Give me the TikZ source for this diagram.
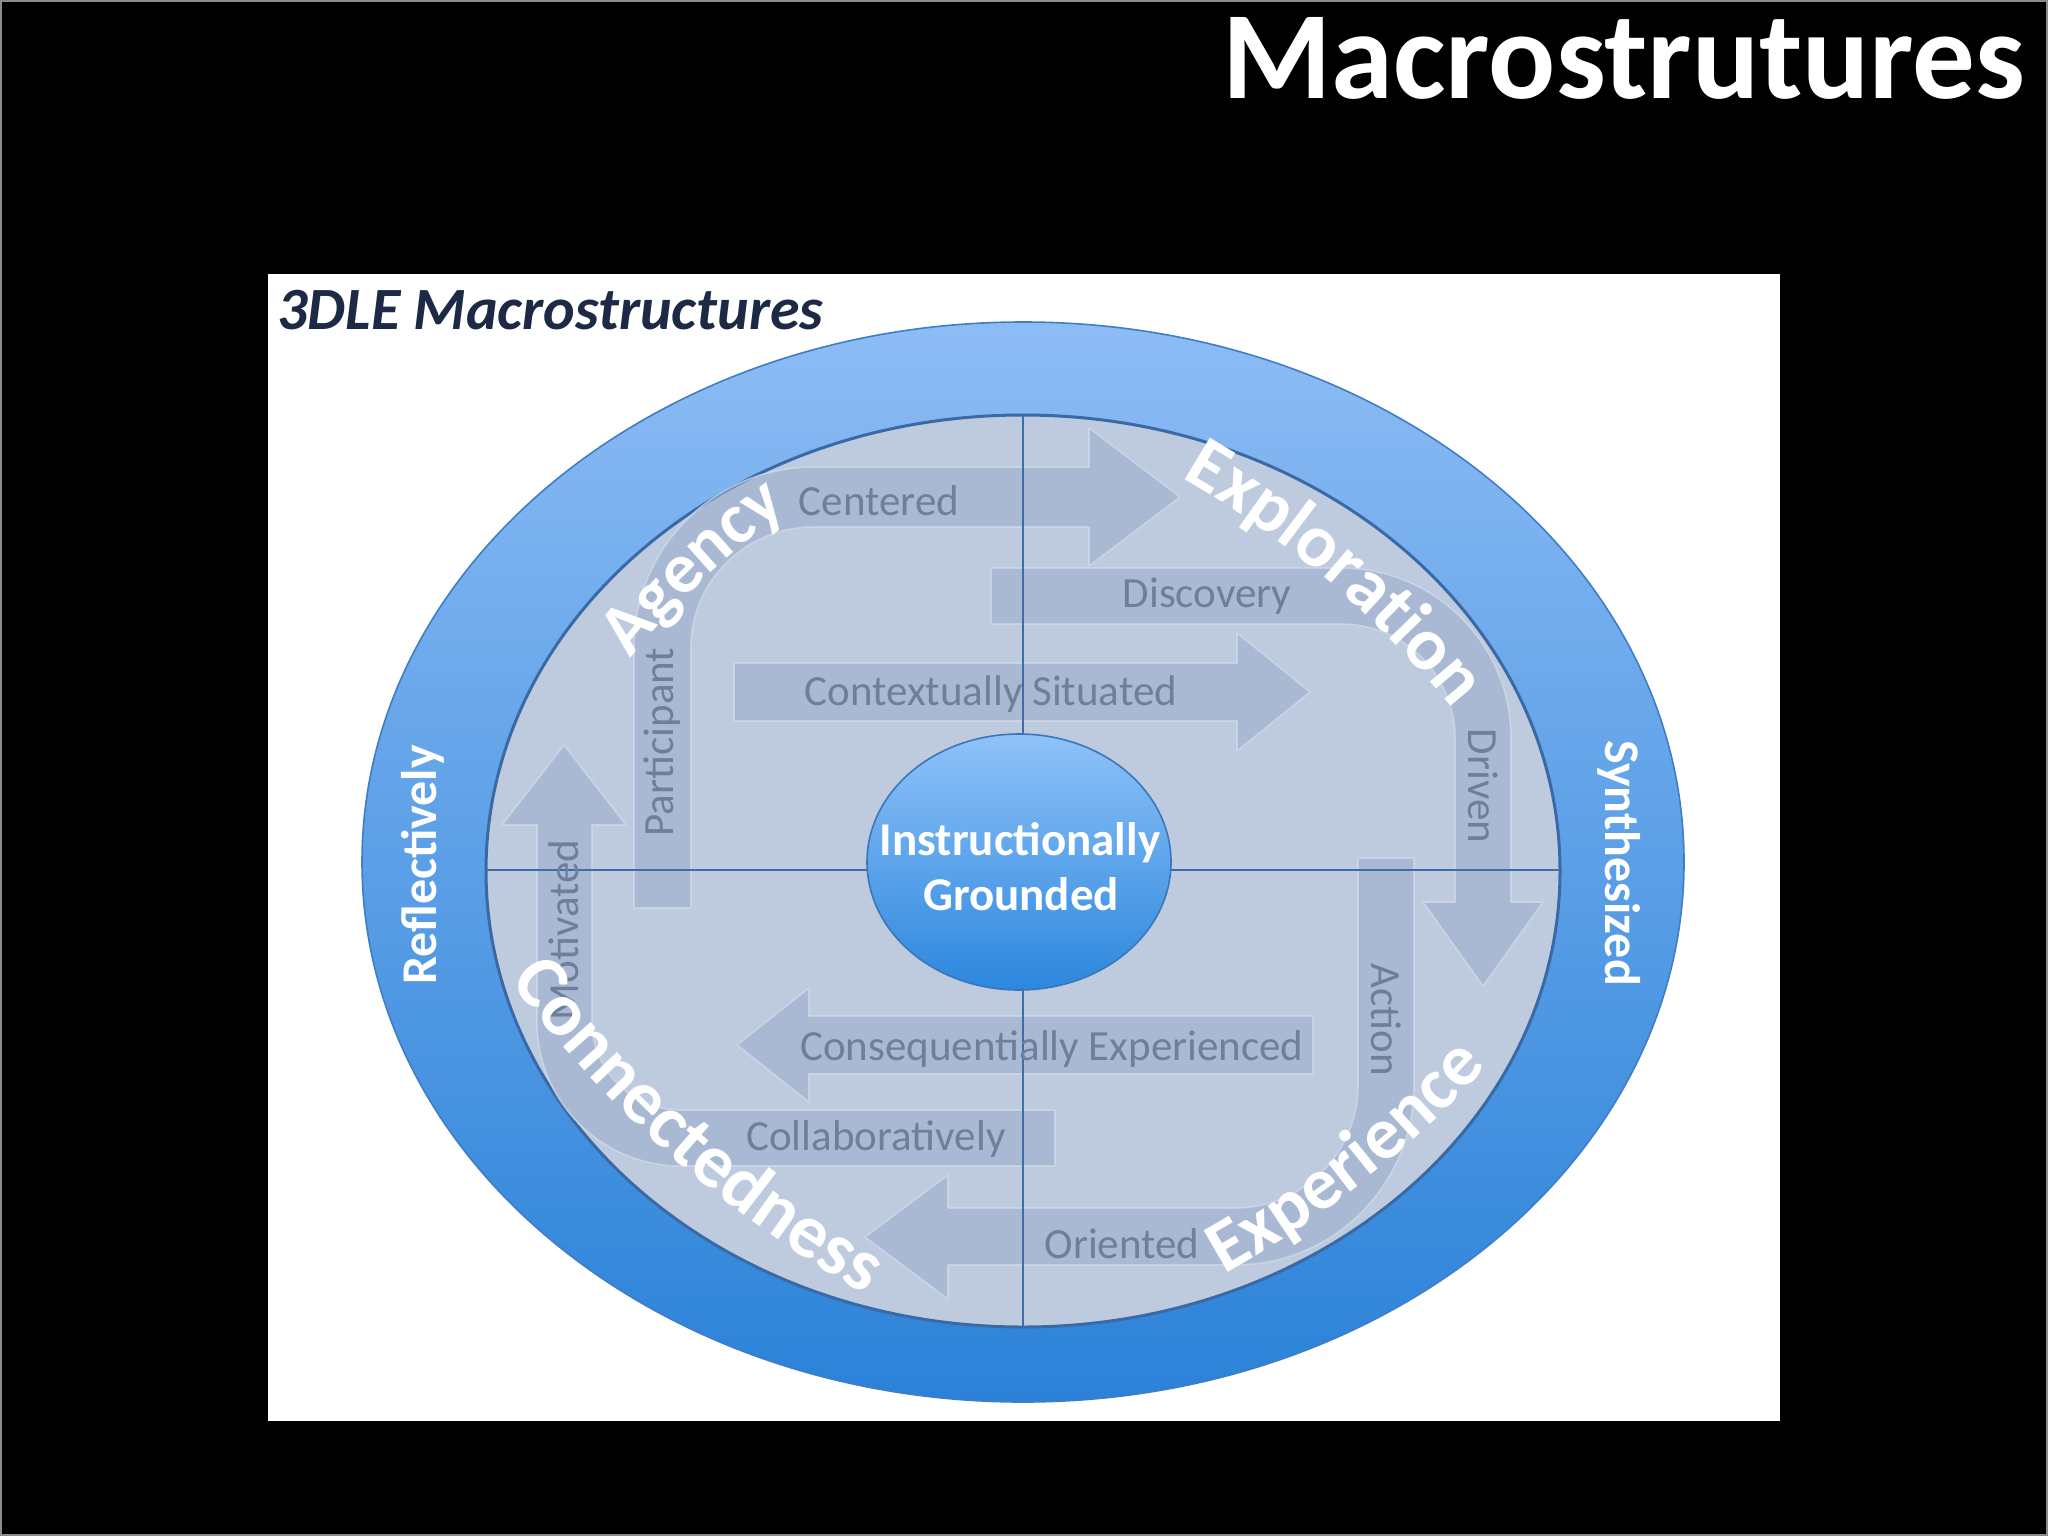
\documentclass[tikz,border=0pt]{standalone}
\usepackage{fontspec}
\setmainfont{Carlito}
\usetikzlibrary{decorations.text,shapes.geometric}
\definecolor{ringtop}{HTML}{8DBCF5}
\definecolor{ringbot}{HTML}{2A82D8}
\definecolor{ringedge}{HTML}{3F7DC8}
\definecolor{innerfill}{HTML}{BECBDF}
\definecolor{inneredge}{HTML}{3A6AA5}
\definecolor{crossc}{HTML}{3F6EA6}
\definecolor{bandfill}{HTML}{98ACCC}
\definecolor{bandedge}{HTML}{D2DCEA}
\definecolor{bandtxt}{HTML}{6E7F99}
\definecolor{coretop}{HTML}{8FC2F9}
\definecolor{corebot}{HTML}{2C87DD}
\definecolor{coreedge}{HTML}{3B76B9}
\definecolor{navy}{HTML}{1C2A46}
\definecolor{framegray}{HTML}{8C8C8C}
% #1 Mx, #2 My, #3 direction angle (y down), #4 half length, #5 bow (+ = left of travel), #6 font size, #7 text
\newcommand{\bowtext}[7]{%
  \pgfmathsetmacro{\bwdx}{cos(#3)}%
  \pgfmathsetmacro{\bwdy}{sin(#3)}%
  \pgfmathsetmacro{\bwPx}{#1-(#4)*\bwdx-(#5)*\bwdy}%
  \pgfmathsetmacro{\bwPy}{#2-(#4)*\bwdy+(#5)*\bwdx}%
  \pgfmathsetmacro{\bwQx}{#1-(#4)/3*\bwdx+(#5)/3*\bwdy}%
  \pgfmathsetmacro{\bwQy}{#2-(#4)/3*\bwdy-(#5)/3*\bwdx}%
  \pgfmathsetmacro{\bwRx}{#1+(#4)/3*\bwdx+(#5)/3*\bwdy}%
  \pgfmathsetmacro{\bwRy}{#2+(#4)/3*\bwdy-(#5)/3*\bwdx}%
  \pgfmathsetmacro{\bwSx}{#1+(#4)*\bwdx-(#5)*\bwdy}%
  \pgfmathsetmacro{\bwSy}{#2+(#4)*\bwdy+(#5)*\bwdx}%
  \path[decorate,decoration={text along path,text align=center,text color=white,
    text={|\bfseries\fontsize{#6}{#6}\selectfont|#7}}]
    (\bwPx,\bwPy) .. controls (\bwQx,\bwQy) and (\bwRx,\bwRy) .. (\bwSx,\bwSy);%
}
\begin{document}
\begin{tikzpicture}[x=0.5pt,y=-0.5pt,
  band/.style={fill=bandfill,fill opacity=0.55,draw=bandedge,draw opacity=0.7,line width=0.8pt,line join=round},
  bandtext/.style={text=bandtxt,inner sep=0pt,font=\fontsize{21.5}{21.5}\selectfont},
  ringtext/.style={text=white,inner sep=0pt,font=\bfseries\fontsize{25}{25}\selectfont},
  coretext/.style={text=white,inner sep=0pt,font=\bfseries\fontsize{23.5}{23.5}\selectfont},
  crossline/.style={draw=crossc,line width=1.4pt}]

\useasboundingbox (0,0) rectangle (2048,1536);
\fill[black] (0,0) rectangle (2048,1536);
\draw[framegray,line width=1pt] (1,1) rectangle (2047,1535);
\fill[white] (268,274) rectangle (1780,1421);

% outer ring
\shade[top color=ringtop,bottom color=ringbot] (1023,862) ellipse [x radius=661,y radius=540];
\draw[ringedge,line width=0.8pt] (1023,862) ellipse [x radius=661,y radius=540];
% inner disc
\filldraw[fill=innerfill,draw=inneredge,line width=1.5pt] (1023,871) ellipse [x radius=537,y radius=456];

% cross line end points
\coordinate (vtop) at (1023,416);
\coordinate (vbot) at (1023,1327);
\coordinate (hleft) at (486,870);
\coordinate (hright) at (1560,870);

% Agency loop: Participant -> Centered
\path[band] (634,908) -- (634,647) arc[start angle=180,end angle=270,x radius=180,y radius=180]
  -- (1089,467) -- (1089,428) -- (1180,497) -- (1089,566) -- (1089,527) -- (814,527)
  arc[start angle=270,end angle=180,x radius=123,y radius=120] -- (691,908) -- cycle;
% Exploration loop: Discovery -> Driven
\path[band] (991,568) -- (1341,568) arc[start angle=-90,end angle=0,x radius=170,y radius=170]
  -- (1511,902) -- (1543,902) -- (1483,986) -- (1423,902) -- (1455,902) -- (1455,738)
  arc[start angle=0,end angle=-90,x radius=114,y radius=114] -- (991,624) -- cycle;
% Experience loop: Action -> Oriented
\path[band] (1358,858) -- (1414,858) -- (1414,1085) arc[start angle=0,end angle=90,x radius=179,y radius=180]
  -- (948,1265) -- (948,1299) -- (865,1237) -- (948,1175) -- (948,1208) -- (1235,1208)
  arc[start angle=90,end angle=0,x radius=123,y radius=123] -- cycle;
% Connectedness loop: Collaboratively -> Motivated
\path[band] (1055,1110) -- (1055,1166) -- (681,1166) arc[start angle=90,end angle=180,x radius=144,y radius=144]
  -- (537,825) -- (502,825) -- (564,745) -- (626,825) -- (592,825) -- (592,1022)
  arc[start angle=180,end angle=90,x radius=89,y radius=88] -- cycle;
% straight arrows
\path[band] (734,663) -- (1237,663) -- (1237,633) -- (1310,692) -- (1237,751) -- (1237,721) -- (734,721) -- cycle;
\path[band] (1313,1016) -- (809,1016) -- (809,988) -- (737,1045) -- (809,1102) -- (809,1074) -- (1313,1074) -- cycle;

% cross lines
\draw[crossline] (vtop) -- (vbot);
\draw[crossline] (hleft) -- (hright);

% band texts
\node[bandtext,anchor=base] (centered) at (879,515) {Centered};
\node[bandtext,anchor=base] (discovery) at (1207,607) {Discovery};
\node[bandtext,anchor=base] (context) at (991,705) {Contextually Situated};
\node[bandtext,anchor=base] (conseq) at (1052,1060) {Consequentially Experienced};
\node[bandtext,anchor=base] (collab) at (876,1150) {Collaboratively};
\node[bandtext,anchor=base] (oriented) at (1122,1258) {Oriented};
\node[bandtext,rotate=90] (particip) at (662,742) {Participant};
\node[bandtext,rotate=90] (motiv) at (564,930) {Motivated};
\node[bandtext,rotate=-90] (driven) at (1483,786) {Driven};
\node[bandtext,rotate=-90] (action) at (1386,1020) {Action};

% core
\node[ellipse,minimum width=152pt,minimum height=128pt,inner sep=0pt,draw=coreedge,line width=0.8pt,
  top color=coretop,bottom color=corebot] (core) at (1019,862) {};
\node[coretext,anchor=base] (coreA) at (1020,855) {Instructionally};
\node[coretext,anchor=base] (coreB) at (1021,910) {Grounded};

% ring labels
\node[ringtext,rotate=90] (refl) at (423,865) {Reflectively};
\node[ringtext,rotate=-90] (synth) at (1619,863) {Synthesized};

% curved labels
\bowtext{704}{579}{-43.5}{170}{19}{36}{Agency}
\bowtext{1328}{581}{40.5}{260}{35}{37.5}{Exploration}
\bowtext{671}{1156}{41.5}{300}{-40}{38}{Connectedness}
\bowtext{1364}{1181}{-38.2}{230}{-25}{37}{Experience}

% titles
\node[anchor=base east,inner sep=0pt,text=white,font=\bfseries\fontsize{62.5}{62.5}\selectfont] (title) at (2026,98) {Macrostrutures};
\node[anchor=base west,inner sep=0pt,text=navy,font=\bfseries\itshape\fontsize{30}{30}\selectfont] (subtitle) at (277,329) {3DLE Macrostructures};
\end{tikzpicture}
\end{document}
